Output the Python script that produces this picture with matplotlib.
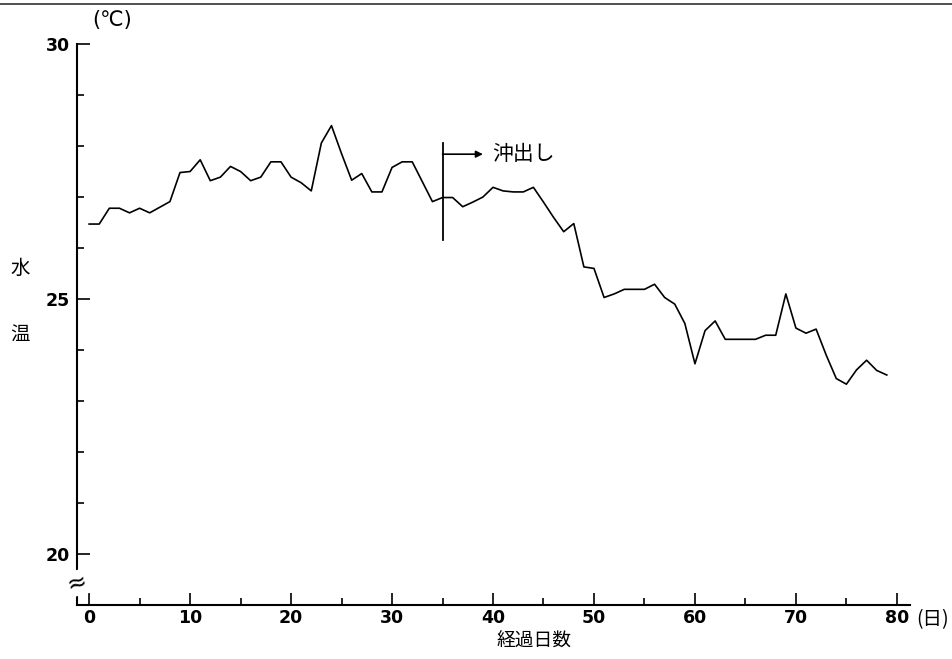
import matplotlib.pyplot as plt
from matplotlib.ticker import MultipleLocator

plt.rcParams['font.family'] = ['Noto Sans CJK JP', 'DejaVu Sans']

# daily water temperature (deg C), day 0..79
days = list(range(80))
temp = [26.47, 26.47, 26.78, 26.78, 26.69, 26.78, 26.69, 26.80, 26.91, 27.48,
        27.50, 27.73, 27.32, 27.39, 27.60, 27.50, 27.32, 27.39, 27.69, 27.69,
        27.39, 27.28, 27.12, 28.06, 28.40, 27.85, 27.33, 27.46, 27.10, 27.10,
        27.58, 27.69, 27.69, 27.30, 26.91, 26.99, 26.99, 26.81, 26.90, 27.00,
        27.19, 27.12, 27.10, 27.10, 27.19, 26.90, 26.60, 26.32, 26.48, 25.63,
        25.60, 25.03, 25.10, 25.19, 25.19, 25.19, 25.29, 25.03, 24.90, 24.52,
        23.73, 24.38, 24.57, 24.21, 24.21, 24.21, 24.21, 24.29, 24.29, 25.10,
        24.43, 24.33, 24.41, 23.90, 23.44, 23.33, 23.61, 23.80, 23.60, 23.51]

release_day = 35
release_label = "沖出し"

fig = plt.figure(figsize=(9.52, 6.59), dpi=100)
ax = fig.add_axes([0.0809, 0.0819, 0.875, 0.8513])

ax.plot(days, temp, color='black', lw=1.2)

ax.set_xlim(-1.2, 81.3)
ax.set_ylim(19.0, 30)

for s in ['top', 'right']:
    ax.spines[s].set_visible(False)
for s in ['left', 'bottom']:
    ax.spines[s].set_linewidth(1.5)
ax.spines['left'].set_bounds(19.0, 30)

ax.xaxis.set_major_locator(MultipleLocator(10))
ax.xaxis.set_minor_locator(MultipleLocator(5))
ax.yaxis.set_major_locator(MultipleLocator(5))
ax.yaxis.set_minor_locator(MultipleLocator(1))
ax.set_yticks([20, 25, 30])
ax.tick_params(which='major', direction='in', length=9, width=1.2, labelsize=12.5, pad=5)
ax.tick_params(axis='x', pad=3)
ax.tick_params(which='minor', direction='in', length=5, width=1.2)
for lbl in ax.get_xticklabels() + ax.get_yticklabels():
    lbl.set_fontweight('bold')
    lbl.set_family('DejaVu Sans')

# release marker
ax.plot([release_day, release_day], [26.16, 28.06], color='black', lw=1.3)
ax.annotate('', xy=(39.0, 27.84), xytext=(release_day, 27.84),
            arrowprops=dict(arrowstyle='-|>', color='black', lw=1.2,
                            mutation_scale=10, shrinkA=0, shrinkB=0))
ax.text(39.9, 27.84, release_label, fontsize=15, va='center', ha='left')

# axis break mark
ax.text(-1.2, 19.43, '≈', fontsize=17, ha='center', va='center', rotation=15,
        family='DejaVu Sans',
        bbox=dict(facecolor='white', edgecolor='none', pad=0.5))

# labels
fig.text(112 / 952, 1 - 20 / 659, '(℃)', fontsize=15, ha='center', va='center',
         family=['DejaVu Sans'])
fig.text(20 / 952, 1 - 268 / 659, '水', fontsize=14, ha='center', va='center')
fig.text(20 / 952, 1 - 335 / 659, '温', fontsize=14, ha='center', va='center')
fig.text(534 / 952, 1 - 641 / 659, '経過日数', fontsize=13.5, ha='center', va='center')
fig.text(933 / 952, 1 - 620 / 659, '(日)', fontsize=14, ha='center', va='center')

# top border of the scanned page
fig.add_artist(plt.Line2D([0, 1], [1 - 4 / 659, 1 - 4 / 659], color='#333333', lw=1.2))

fig.savefig('out.png', dpi=100)
